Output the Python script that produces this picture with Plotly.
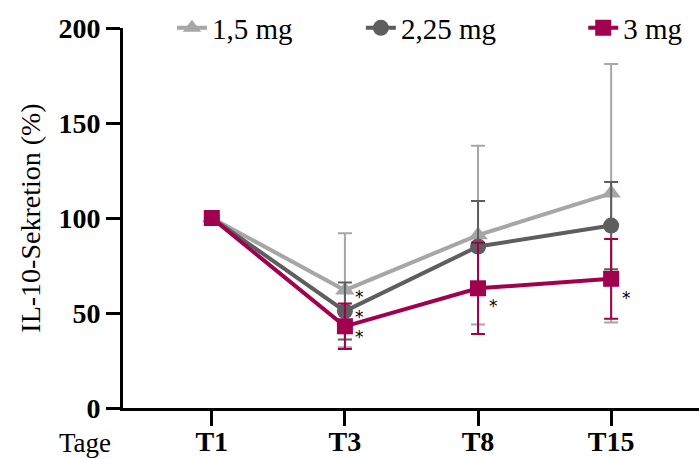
import plotly.graph_objects as go

categories = ["T1", "T3", "T8", "T15"]
series_names = ["1,5 mg", "2,25 mg", "3 mg"]
values_15 = [100, 62, 91, 113]
errors_15 = [0, 30, 47, 68]
values_225 = [100, 51, 85, 96]
errors_225 = [0, 15, 24, 23]
values_3 = [100, 43, 63, 68]
errors_3 = [0, 12, 24, 21]
y_ticks = [0, 50, 100, 150, 200]
# significance marks: (series index, category index)
significant = [(0, 1), (1, 1), (2, 1), (2, 2), (2, 3)]

colors = ["#A6A6A6", "#5E5E5E", "#A0004D"]
symbols = ["triangle-up", "circle", "square"]
marker_sizes = [17, 16, 16]
all_values = [values_15, values_225, values_3]
all_errors = [errors_15, errors_225, errors_3]
legend_ids = ["legend", "legend2", "legend3"]
legend_x = [0.085, 0.413, 0.799]
star_yshift = [-7, -6, -11, -18, -19]

FONT = "Liberation Serif"
xidx = list(range(len(categories)))

fig = go.Figure()
for i in range(3):
    fig.add_trace(go.Scatter(
        x=xidx, y=all_values[i], name=series_names[i],
        mode="lines+markers",
        line=dict(color=colors[i], width=4),
        marker=dict(symbol=symbols[i], size=marker_sizes[i], color=colors[i]),
        error_y=dict(type="data", array=all_errors[i], symmetric=True,
                     color=colors[i], thickness=2, width=7),
        legend=legend_ids[i],
        cliponaxis=False,
    ))

for k, (si, ci) in enumerate(significant):
    fig.add_annotation(x=xidx[ci], y=all_values[si][ci], text="*",
                       showarrow=False, xanchor="center", yanchor="middle",
                       xshift=15, yshift=star_yshift[k],
                       font=dict(family="DejaVu Sans", size=17, color="black"))

fig.add_annotation(xref="paper", yref="paper", x=-0.066, y=-0.093,
                   text="Tage", showarrow=False, xanchor="center", yanchor="middle",
                   font=dict(family=FONT, size=27, color="black"))
fig.add_annotation(xref="paper", yref="paper", x=-0.162, y=0.5,
                   text="IL-10-Sekretion (%)", showarrow=False, textangle=-90,
                   xanchor="center", yanchor="middle",
                   font=dict(family=FONT, size=28, color="black"))

legend_common = dict(orientation="h", yanchor="middle", xanchor="left",
                     font=dict(family=FONT, size=29, color="black"),
                     bgcolor="rgba(0,0,0,0)", borderwidth=0, itemwidth=30)
layout_legends = {}
for i, lid in enumerate(legend_ids):
    layout_legends[lid] = dict(legend_common, x=legend_x[i], y=1.0)

fig.update_layout(
    width=699, height=459,
    margin=dict(l=123, r=0, t=28, b=51),
    plot_bgcolor="white", paper_bgcolor="white",
    font=dict(family=FONT, size=28, color="black"),
    xaxis=dict(
        range=[-0.667, 3.66], tickvals=xidx, ticktext=categories,
        showgrid=False, zeroline=False, showline=True, linecolor="black", linewidth=3,
        ticks="outside", ticklen=15, tickwidth=3, tickcolor="black",
        ticklabelstandoff=-9, automargin=False,
        tickfont=dict(family=FONT, size=28, color="black", weight="bold"),
    ),
    yaxis=dict(
        range=[0, 200], tickvals=y_ticks,
        showgrid=False, zeroline=False, showline=True, linecolor="black", linewidth=3,
        ticks="outside", ticklen=14, tickwidth=3, tickcolor="black",
        automargin=False,
        tickfont=dict(family=FONT, size=28, color="black", weight="bold"),
    ),
    showlegend=True,
    **layout_legends,
)

fig.write_html("out.html")
